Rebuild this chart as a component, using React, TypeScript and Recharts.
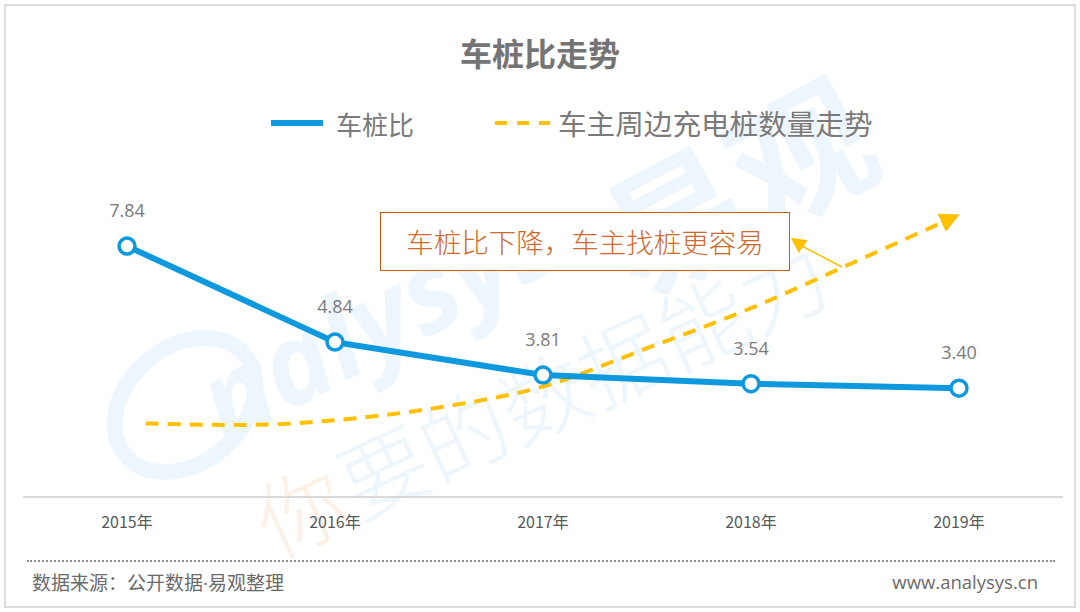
import React from "react";
import { LineChart, Line, XAxis, YAxis, LabelList } from "recharts";

const years = ["2015年", "2016年", "2017年", "2018年", "2019年"];
const ratioValues = [7.84, 4.84, 3.81, 3.54, 3.4];
const trendX = [0.09, 0.55, 1.0, 1.5, 2.0, 2.5, 3.0, 3.5, 3.96];
const trendValues = [2.3, 2.25, 2.4, 2.8, 3.45, 4.65, 5.9, 7.35, 8.7];
const xTicks = [0, 1, 2, 3, 4];

const ratioData = ratioValues.map((v, i) => ({ x: i, ratio: v }));
const trendData = trendX.map((x, i) => ({ x, trend: trendValues[i] }));

const BLUE = "#0e98dd";
const YELLOW = "#ffc000";
const CJK = '"Noto Sans CJK SC", "Noto Sans", sans-serif';
const WM = "#edf6fc";

export default function App() {
  return (
    <div style={{ position: "absolute", left: 0, top: 0, width: 1080, height: 612, background: "#fff", fontFamily: CJK, overflow: "hidden" }}>
      <svg width={0} height={0} style={{ position: "absolute" }}>
        <defs>
          <marker id="trendArrow" viewBox="0 0 10 10" refX="5" refY="5" markerWidth="5" markerHeight="5" orient="auto" markerUnits="strokeWidth">
            <path d="M0,0 L10,5 L0,10 z" fill={YELLOW} />
          </marker>
        </defs>
      </svg>
      {/* watermark */}
      <svg width={1080} height={612} style={{ position: "absolute", left: 0, top: 0 }}>
        <ellipse cx={185} cy={405} rx={78} ry={58} fill="none" stroke={WM} strokeWidth={16} transform="rotate(-40 185 405)" />
        <text x={225} y={445} fontSize={112} fontStyle="italic" fontWeight="bold" fill={WM} fontFamily='"Open Sans", sans-serif' transform="rotate(-28 225 445)">nalysys</text>
        <text x={640} y={300} fontSize={140} fontWeight="bold" fill={WM} fontFamily={CJK} transform="rotate(-28 640 300)">易观</text>
        <g transform="rotate(-25 275 560)" fontFamily={CJK} fontSize={88} fontWeight={300}>
          <text x={275} y={560} fill="#fdf1e7">你</text>
          <text x={367} y={560} fill={WM}>要的数据能力</text>
        </g>
      </svg>
      {/* frame */}
      <div style={{ position: "absolute", left: 4, top: 4, width: 1068, height: 600, border: "2px solid #dcdcdc" }} />
      {/* title */}
      <div style={{ position: "absolute", left: 0, top: 30, width: 1080, textAlign: "center", fontSize: 32, fontWeight: 600, color: "#747474", lineHeight: "44px" }}>车桩比走势</div>
      {/* legend */}
      <div style={{ position: "absolute", left: 271, top: 120, width: 52, height: 6, background: BLUE }} />
      <div style={{ position: "absolute", left: 336, top: 106, fontSize: 26, color: "#7a7a7a", lineHeight: "36px" }}>车桩比</div>
      <svg width={60} height={10} style={{ position: "absolute", left: 494, top: 118 }}>
        <line x1={1} y1={5} x2={56} y2={5} stroke={YELLOW} strokeWidth={4} strokeDasharray="12 10" />
      </svg>
      <div style={{ position: "absolute", left: 558, top: 104, fontSize: 28.6, color: "#7a7a7a", lineHeight: "38px" }}>车主周边充电桩数量走势</div>

      <div style={{ position: "absolute", left: 0, top: 0 }}>
        <LineChart width={1080} height={612} margin={{ top: 177, right: 17, left: 23, bottom: 85 }}>
          <XAxis
            type="number"
            dataKey="x"
            domain={[-0.5, 4.5]}
            ticks={xTicks}
            allowDataOverflow
            tickFormatter={(v: number) => years[v] ?? ""}
            tickLine={false}
            axisLine={{ stroke: "#d9d9d9", strokeWidth: 2 }}
            tick={{ fill: "#595959", fontSize: 16, fontFamily: CJK }}
            tickMargin={14}
            height={30}
          />
          <YAxis hide domain={[0, 10]} allowDataOverflow />
          <Line
            data={trendData}
            dataKey="trend"
            type="monotone"
            stroke={YELLOW}
            strokeWidth={4}
            strokeDasharray="13 9"
            dot={false}
            activeDot={false}
            markerEnd="url(#trendArrow)"
            isAnimationActive={false}
          />
          <Line
            data={ratioData}
            dataKey="ratio"
            type="linear"
            stroke={BLUE}
            strokeWidth={6}
            dot={{ r: 8, fill: "#fff", stroke: BLUE, strokeWidth: 3.5 }}
            activeDot={false}
            isAnimationActive={false}
          >
            <LabelList dataKey="ratio" position="top" offset={29} formatter={(v: number) => v.toFixed(2)} style={{ fill: "#7a7a7a", fontSize: 18, fontFamily: '"Open Sans", "Noto Sans", sans-serif' }} />
          </Line>
        </LineChart>
      </div>

      {/* annotation */}
      <div style={{ position: "absolute", left: 380, top: 212, width: 410, height: 59, border: "1.5px solid #c55a11", background: "#fff", boxSizing: "border-box" }} />
      <div style={{ position: "absolute", left: 380, top: 212, width: 410, height: 59, lineHeight: "59px", textAlign: "center", fontSize: 27.5, fontWeight: 300, color: "#cf6a2c" }}>车桩比下降，车主找桩更容易</div>
      <svg width={1080} height={612} style={{ position: "absolute", left: 0, top: 0, pointerEvents: "none" }}>
        <line x1={842} y1={267} x2={800} y2={245} stroke={YELLOW} strokeWidth={1.5} />
        <path d="M790,239 L807,239 L800,253 z" fill={YELLOW} transform="rotate(8 799 244)" />
      </svg>

      {/* footer */}
      <div style={{ position: "absolute", left: 27, top: 560, width: 1028, borderTop: "2px dotted #8a8a8a" }} />
      <div style={{ position: "absolute", left: 32, top: 569, fontSize: 19, color: "#6a6a6a", lineHeight: "26px" }}>
        数据来源：公开数据<span style={{ fontFamily: '"Open Sans", sans-serif' }}>·</span>易观整理
      </div>
      <div style={{ position: "absolute", right: 42, top: 569, fontSize: 18.5, color: "#6a6a6a", lineHeight: "26px", fontFamily: '"Open Sans", sans-serif' }}>www.analysys.cn</div>
    </div>
  );
}
